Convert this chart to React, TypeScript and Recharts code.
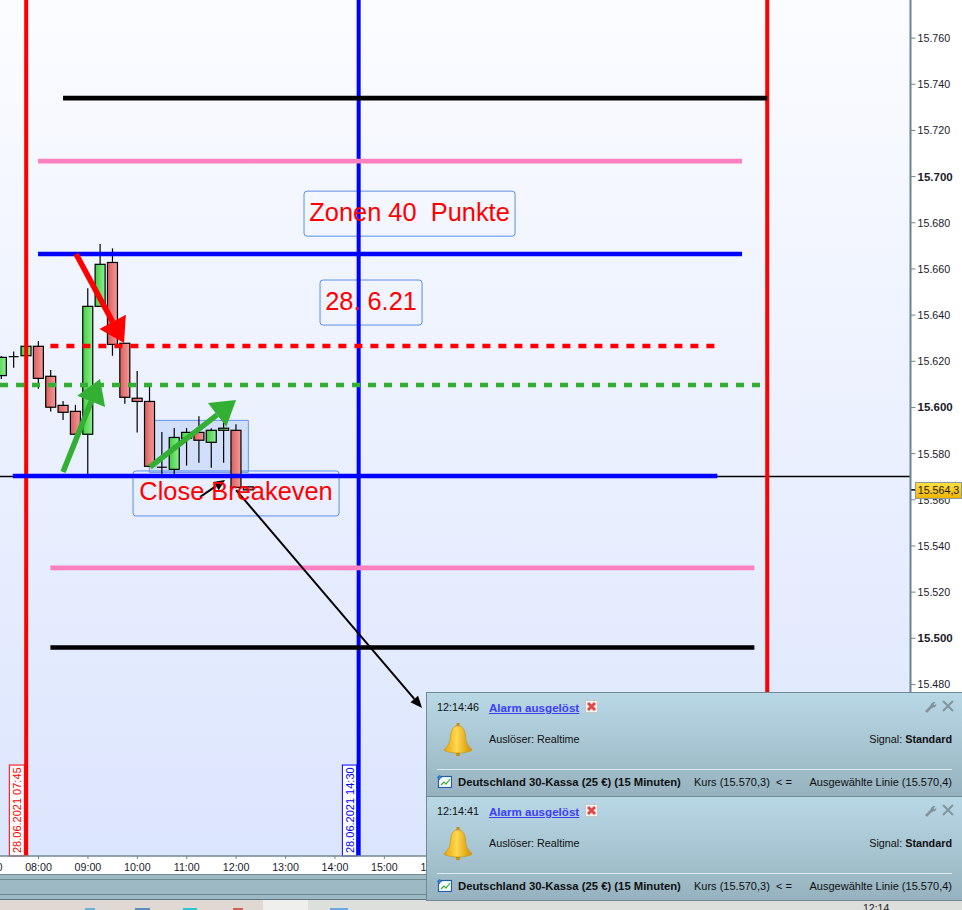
import React from "react";
import {
  Bar,
  CartesianGrid,
  ComposedChart,
  ReferenceArea,
  ReferenceLine,
  XAxis,
  YAxis,
} from "recharts";

// 15 minute candles, time as decimal hours
const times = [7.25, 7.5, 7.75, 8, 8.25, 8.5, 8.75, 9, 9.25, 9.5, 9.75, 10, 10.25, 10.5, 10.75, 11, 11.25, 11.5, 11.75, 12, 12.25];
const opens = [15613.8, 15622.0, 15622.4, 15626.5, 15613.5, 15600.9, 15598.3, 15588.4, 15643.8, 15662.8, 15627.8, 15604.0, 15602.6, 15574.1, 15573.2, 15586.6, 15589.2, 15584.9, 15590.1, 15590.1, 15565.6];
const closes = [15621.7, 15622.0, 15626.5, 15612.6, 15600.1, 15597.9, 15588.4, 15643.8, 15662.0, 15627.3, 15604.4, 15602.6, 15574.5, 15573.6, 15587.0, 15589.2, 15585.8, 15590.1, 15591.0, 15565.4, 15564.3];
const highs = [15622.3, 15624.2, 15627.0, 15628.8, 15616.2, 15602.8, 15601.1, 15651.6, 15670.8, 15668.9, 15627.8, 15615.8, 15609.6, 15589.4, 15591.1, 15591.1, 15596.2, 15591.0, 15594.1, 15592.7, 15565.8];
const lows = [15612.3, 15617.2, 15622.4, 15608.1, 15598.2, 15594.6, 15588.4, 15570.7, 15643.8, 15622.4, 15601.6, 15589.1, 15574.5, 15570.7, 15570.7, 15574.8, 15576.1, 15573.9, 15576.1, 15565.0, 15564.0];

const priceTicks = [15420, 15440, 15460, 15480, 15500, 15520, 15540, 15560, 15580, 15600, 15620, 15640, 15660, 15680, 15700, 15720, 15740, 15760];
const hourTicks = [7, 8, 9, 10, 11, 12, 13, 14, 15, 16, 17, 18, 19, 20, 21, 22, 23, 24, 25];

// [price, from hour, to hour, colour, dash]
const levels: [number, number, number, string, string?][] = [
  [15734, 8.496, 22.75, "#000000"],
  [15706.7, 7.99, 22.24, "#ff80c0"],
  [15666.5, 7.99, 22.24, "#0000ff"],
  [15626.6, 8.24, 21.7, "#ff0000", "8 8"],
  [15609.7, 7.22, 22.75, "#33b033", "8 8"],
  [15570.3, 7.48, 21.74, "#0000ff"],
  [15530.5, 8.24, 22.49, "#ff80c0"],
  [15496, 8.24, 22.49, "#000000"],
];

// [from hour, from price, to hour, to price, colour, width, head length, head width]
const arrows: [number, number, number, number, string, number, number, number][] = [
  [8.759, 15666.5, 9.731, 15627.9, "#ff0000", 5.5, 24, 30],
  [8.496, 15572.0, 9.245, 15612.3, "#33b033", 5.5, 24, 30],
  [10.257, 15574.2, 11.998, 15603.2, "#33b033", 5.5, 24, 30],
  [11.269, 15561.2, 11.775, 15568.6, "#000000", 2, 11, 10],
  [12.0, 15564.2, 15.763, 15469.8, "#000000", 2, 12, 10],
];

// [x1, x2, y1, y2, text]
const notes: [number, number, number, number, string][] = [
  [13.374, 17.646, 15674.2, 15693.7, "Zonen 40\u00a0 Punkte"],
  [13.698, 15.763, 15635.7, 15655.2, "28. 6.21"],
  [9.913, 14.083, 15553.0, 15572.5, "Close Breakeven"],
];

const candles = times.map((t, i) => ({
  t,
  open: opens[i],
  close: closes[i],
  high: highs[i],
  low: lows[i],
  range: [lows[i], highs[i]],
}));

const fmt = (v: number) => String(v).replace(/(\d\d)(\d{3})/, "$1.$2");
const hhmm = (h: number) => `${String(h).padStart(2, "0")}:00`;

function Candle(props: any) {
  const { x, y, width, height, payload } = props;
  const { open, close, high, low } = payload;
  const ratio = height / (high - low || 1);
  const top = y + (high - Math.max(open, close)) * ratio;
  const bottom = y + (high - Math.min(open, close)) * ratio;
  const mid = x + width / 2;
  const up = close > open;
  const flat = bottom - top < 1.2;
  return (
    <g>
      <line x1={mid} x2={mid} y1={y} y2={y + height} stroke="#000" strokeWidth={1.2} />
      {flat ? (
        <line x1={x} x2={x + width} y1={top} y2={top} stroke="#000" strokeWidth={1.2} />
      ) : (
        <rect
          x={x}
          y={top}
          width={width}
          height={bottom - top}
          fill={up ? "url(#candleUp)" : "url(#candleDown)"}
          stroke="#000"
          strokeWidth={1.2}
        />
      )}
    </g>
  );
}

function Arrow(props: any) {
  const { x1, y1, x2, y2, stroke, strokeWidth, len, wide } = props;
  const a = Math.atan2(y2 - y1, x2 - x1);
  const bx = x2 - len * Math.cos(a);
  const by = y2 - len * Math.sin(a);
  const nx = (Math.sin(a) * wide) / 2;
  const ny = (Math.cos(a) * wide) / 2;
  return (
    <g>
      <line x1={x1} y1={y1} x2={bx} y2={by} stroke={stroke} strokeWidth={strokeWidth} />
      <polygon points={`${x2},${y2} ${bx + nx},${by - ny} ${bx - nx},${by + ny}`} fill={stroke} />
    </g>
  );
}

function DateTag(props: any) {
  const { x, y, width, height, color, text } = props;
  const cx = x + width / 2;
  const by = y + height - 3;
  return (
    <g>
      <rect x={x} y={y} width={width} height={height} fill="#fff" stroke={color} strokeWidth={1} />
      <text
        x={cx}
        y={by}
        fill={color}
        fontSize={11}
        fontFamily="Liberation Sans"
        dominantBaseline="central"
        transform={`rotate(-90 ${cx} ${by})`}
      >
        {text}
      </text>
    </g>
  );
}

function PriceTick(props: any) {
  const { x, y, payload } = props;
  const bold = payload.value % 100 === 0;
  return (
    <text
      x={x}
      y={y + 4}
      fontSize={bold ? 11.5 : 10.7}
      fontWeight={bold ? 700 : 400}
      fontFamily="Liberation Sans"
      fill="#1a1a2a"
    >
      {fmt(payload.value)}
    </text>
  );
}

function Bell() {
  return (
    <svg width="30" height="34" viewBox="0 0 30 34" style={{ position: "absolute", left: 16, top: 30 }}>
      <defs>
        <linearGradient id="bell" x1="0" y1="0" x2="1" y2="0">
          <stop offset="0%" stopColor="#e8a408" />
          <stop offset="45%" stopColor="#ffd84e" />
          <stop offset="100%" stopColor="#d08f00" />
        </linearGradient>
      </defs>
      <rect x="13.5" y="0" width="3" height="5" fill="#c8900a" />
      <circle cx="15" cy="31" r="2.2" fill="#c8900a" />
      <path d="M15 3 C8 3 8 10 7 17 C6.5 22 3 24 1 27 C5 31 25 31 29 27 C27 24 23.5 22 23 17 C22 10 22 3 15 3 Z" fill="url(#bell)" stroke="#c8900a" strokeWidth="0.6" />
    </svg>
  );
}

function PanelIcons() {
  return (
    <>
      <svg width="13" height="13" viewBox="0 0 13 13" style={{ position: "absolute", left: 158, top: 7 }}>
        <rect x="0.5" y="0.5" width="12" height="12" fill="#f4f4f4" stroke="#c8c8c8" />
        <path d="M3 3 L10 10 M10 3 L3 10" stroke="#e04848" strokeWidth="3" />
      </svg>
      <svg width="12" height="12" viewBox="0 0 12 12" style={{ position: "absolute", left: 498, top: 8 }}>
        <path d="M1 11 L7 5" stroke="#7f929c" strokeWidth="2.6" />
        <path d="M6 6 C5 3 7 1 10.5 1 L8.5 3.5 L9.5 4.5 L11.5 2.5 C11.5 6 9 7.5 6 6 Z" fill="#7f929c" />
      </svg>
      <svg width="12" height="12" viewBox="0 0 12 12" style={{ position: "absolute", left: 515, top: 7 }}>
        <path d="M1 1 L11 11 M11 1 L1 11" stroke="#83959f" strokeWidth="2" />
      </svg>
      <svg width="15" height="13" viewBox="0 0 15 13" style={{ position: "absolute", left: 10, top: 82 }}>
        <rect x="1.5" y="1.5" width="13" height="11" fill="#fff" stroke="#1f5fa8" strokeWidth="1.2" />
        <path d="M4 10 L7 7 L9 9 L13 4" fill="none" stroke="#3aa83a" strokeWidth="1.2" />
        <path d="M2.5 0 V5 M0 2.5 H5" stroke="#3a7fd0" strokeWidth="1.6" />
      </svg>
    </>
  );
}

function Alarm({ top, time }: { top: number; time: string }) {
  const abs = (left: number, y: number, extra: React.CSSProperties = {}): React.CSSProperties => ({
    position: "absolute",
    left,
    top: y,
    lineHeight: "13px",
    whiteSpace: "pre",
    ...extra,
  });
  return (
    <div
      style={{
        position: "absolute",
        left: 426,
        top,
        width: 535,
        height: 103,
        background: "linear-gradient(#b9d8e5, #96b2bf)",
        border: "1px solid #6f8a96",
        fontFamily: "Liberation Sans",
        fontSize: 10.8,
        color: "#101010",
      }}
    >
      <span style={abs(10, 8)}>{time}</span>
      <span style={abs(62, 8, { color: "#3d3dff", textDecoration: "underline", fontSize: 11.6, fontWeight: 700 })}>Alarm ausgelöst</span>
      <PanelIcons />
      <Bell />
      <span style={abs(62, 40)}>Auslöser: Realtime</span>
      <span style={abs(0, 40, { left: "auto", right: 10 })}>
        Signal: <b>Standard</b>
      </span>
      <div style={{ position: "absolute", left: 10, right: 10, top: 76, height: 1, background: "#dfe8ec" }} />
      <span style={abs(31, 83, { fontWeight: 700, fontSize: 11.3 })}>Deutschland 30-Kassa (25 €) (15 Minuten)</span>
      <span style={abs(267, 83, { fontSize: 11 })}>Kurs (15.570,3)</span>
      <span style={abs(349, 83, { fontSize: 11 })}>{"< ="}</span>
      <span style={abs(0, 83, { left: "auto", right: 10, fontSize: 11 })}>Ausgewählte Linie (15.570,4)</span>
    </div>
  );
}

const band = (top: number, height: number, left: number, width: number, background: string): React.CSSProperties => ({
  position: "absolute",
  top,
  height,
  left,
  width,
  background,
});

export default function App() {
  return (
    <div style={{ position: "absolute", left: 0, top: 0, width: 962, height: 910, overflow: "hidden", background: "#fff" }}>
      <ComposedChart
        width={962}
        height={910}
        data={candles}
        margin={{ top: 0, right: 0, bottom: 0, left: 0 }}
        barSize={10}
      >
        <defs>
          <linearGradient id="plotBg" x1="0" y1="0" x2="0" y2="1">
            <stop offset="0%" stopColor="#fbfcff" />
            <stop offset="100%" stopColor="#dbe5fd" />
          </linearGradient>
          <linearGradient id="candleUp" x1="0" y1="0" x2="1" y2="0">
            <stop offset="0%" stopColor="#43d043" />
            <stop offset="100%" stopColor="#90ec90" />
          </linearGradient>
          <linearGradient id="candleDown" x1="0" y1="0" x2="1" y2="0">
            <stop offset="0%" stopColor="#d85f5f" />
            <stop offset="100%" stopColor="#f59a9a" />
          </linearGradient>
        </defs>
        <CartesianGrid horizontal={false} vertical={false} fill="url(#plotBg)" />
        <XAxis
          dataKey="t"
          type="number"
          domain={[7.22, 25.65]}
          allowDataOverflow
          ticks={hourTicks}
          interval={0}
          tickFormatter={hhmm}
          height={54}
          tickSize={3}
          tickMargin={4}
          tick={{ fontSize: 10.7, fontFamily: "Liberation Sans", fill: "#1a1a2a" }}
          stroke="#708890"
          axisLine={{ stroke: "#708890", strokeWidth: 1.5 }}
        />
        <YAxis
          orientation="right"
          width={51.5}
          domain={[15405.7, 15776.5]}
          allowDataOverflow
          ticks={priceTicks}
          interval={0}
          tickSize={5}
          tick={<PriceTick />}
          stroke="#708890"
          axisLine={{ stroke: "#6b8590", strokeWidth: 2 }}
        />
        <ReferenceArea
          x1={10.243}
          x2={12.247}
          y1={15571.9}
          y2={15594.4}
          fill="#6f9cf0"
          fillOpacity={0.2}
          stroke="#6495ed"
          strokeOpacity={1}
        />
        <Bar dataKey="range" shape={<Candle />} isAnimationActive={false} />
        <ReferenceLine y={15570.1} stroke="#000" strokeWidth={1.3} />
        <ReferenceLine x={7.75} stroke="#ff0000" strokeWidth={4} />
        <ReferenceLine x={14.48} stroke="#0000ff" strokeWidth={4} />
        <ReferenceLine x={22.75} stroke="#ff0000" strokeWidth={4} />
        {levels.map(([p, from, to, color, dash]) => (
          <ReferenceLine
            key={`${p}`}
            segment={[{ x: from, y: p }, { x: to, y: p }]}
            stroke={color}
            strokeWidth={4.6}
            strokeDasharray={dash}
          />
        ))}
        {arrows.map(([a, b, c, d, color, w, len, wide]) => (
          <ReferenceLine
            key={`${a}-${b}`}
            segment={[{ x: a, y: b }, { x: c, y: d }]}
            shape={(p: any) => (
              <Arrow x1={p.x1} y1={p.y1} x2={p.x2} y2={p.y2} stroke={color} strokeWidth={w} len={len} wide={wide} />
            )}
          />
        ))}
        {notes.map(([x1, x2, y1, y2, text]) => (
          <ReferenceArea
            key={text}
            x1={x1}
            x2={x2}
            y1={y1}
            y2={y2}
            fill="none"
            stroke="#5a8fe8"
            strokeOpacity={1}
            radius={3}
            label={{ value: text, position: "center", fill: "#ff0000", fontSize: 25.4, fontFamily: "Liberation Sans", dy: -2 }}
          />
        ))}
        <ReferenceArea
          x1={7.409}
          x2={7.713}
          y1={15405.7}
          y2={15445.1}
          shape={(p: any) => <DateTag {...p} color="#ff0000" text="28.06.2021 07:45" />}
        />
        <ReferenceArea
          x1={14.15}
          x2={14.44}
          y1={15405.7}
          y2={15445.1}
          shape={(p: any) => <DateTag {...p} color="#0000ff" text="28.06.2021 14:30" />}
        />
        <ReferenceLine
          y={15564.3}
          stroke="none"
          shape={(p: any) => <line x1={Math.max(p.x1, p.x2)} x2={Math.max(p.x1, p.x2) + 5} y1={p.y1} y2={p.y1} stroke="#000" strokeWidth={1.5} />}
        />
      </ComposedChart>

      {/* last price tag */}
      <div
        style={{
          position: "absolute",
          left: 915,
          top: 482,
          width: 45,
          height: 15,
          background: "linear-gradient(#ffdf40, #f0b400)",
          border: "1px solid #8a9aa4",
          fontFamily: "Liberation Sans",
          fontSize: 10.7,
          lineHeight: "15px",
          textAlign: "center",
          color: "#1a1a1a",
        }}
      >
        15.564,3
      </div>

      {/* window furniture under the chart */}
      <div style={{ ...band(874, 25, 0, 426, "#9db9c4"), borderTop: "1px solid #708890", boxSizing: "border-box" }} />
      <div style={band(879, 1, 0, 426, "#708890")} />
      <div style={band(894, 1, 0, 426, "#708890")} />
      <div style={band(899, 1, 0, 962, "#5f747e")} />
      <div style={band(900, 10, 0, 263, "#e0d9d3")} />
      <div style={band(900, 10, 263, 45, "#eff0ee")} />
      <div style={band(900, 10, 308, 654, "#dcdfdc")} />
      <div style={band(908, 2, 85, 10, "#6fb0d8")} />
      <div style={band(908, 2, 135, 15, "#5a8fc0")} />
      <div style={band(908, 2, 183, 14, "#2cc5d0")} />
      <div style={band(908, 2, 233, 10, "#d06050")} />
      <div style={band(908, 2, 330, 18, "#6fa8dc")} />
      <span style={{ position: "absolute", left: 863, top: 902, fontFamily: "Liberation Sans", fontSize: 10.5, color: "#222" }}>12:14</span>

      <Alarm top={692} time="12:14:46" />
      <Alarm top={796} time="12:14:41" />
    </div>
  );
}
